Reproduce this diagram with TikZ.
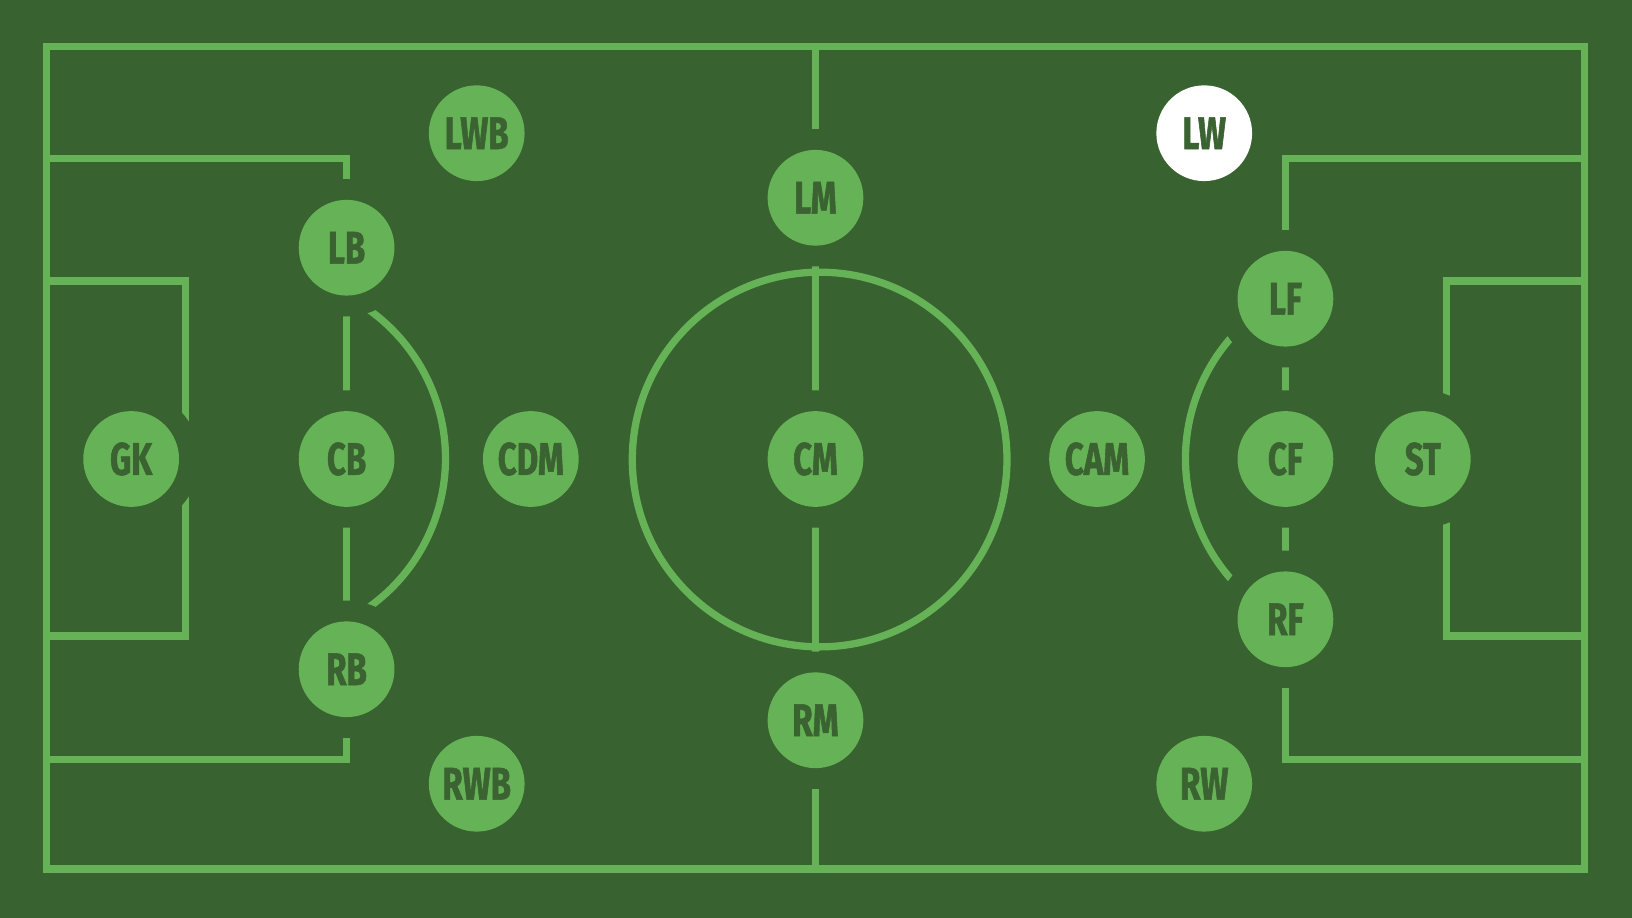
\documentclass[tikz,border=0pt]{standalone}
\usepackage{fontspec}
\newfontfamily\posfont[FakeStretch=0.72, BoldFeatures={FakeBold=1.2}]{Fira Sans}
\definecolor{bg}{HTML}{38622F}
\definecolor{ln}{HTML}{66B256}
\definecolor{txt}{HTML}{3A6331}
\begin{document}
\begin{tikzpicture}[x=0.5pt,y=-0.5pt,
  pitch/.style={draw=ln, line width=3.5pt},
  player/.style={circle, fill=ln, minimum size=46pt, inner sep=0pt, text=txt,
    font=\posfont\bfseries\fontsize{22}{22}\selectfont,
    preaction={draw=bg, line width=20pt}},
  hlplayer/.style={player, fill=white}]
\fill[bg] (0,0) rectangle (1568,882);
\useasboundingbox (0,0) rectangle (1568,882);
% outline and halfway line
\draw[pitch] (45,45) rectangle (1522,835);
\draw[pitch] (783.5,45) -- (783.5,835);
\draw[pitch] (787.5,441.5) circle[radius=90pt];
% left boxes
\draw[pitch] (45,152) -- (333,152) -- (333,730) -- (45,730);
\draw[pitch] (45,270) -- (178,270) -- (178,611) -- (45,611);
\coordinate (lc) at (252.5,440.5);
\draw[pitch] ([shift={(-62.7:87.75pt)}]lc) arc[start angle=-62.7, end angle=62.7, radius=87.75pt];
% right boxes
\draw[pitch] (1522,152) -- (1235,152) -- (1235,730) -- (1522,730);
\draw[pitch] (1522,270) -- (1390,270) -- (1390,611) -- (1522,611);
\coordinate (rc) at (1314.5,440.5);
\draw[pitch] ([shift={(117.3:87.75pt)}]rc) arc[start angle=117.3, end angle=242.7, radius=87.75pt];
% positions
\node[player] (gk)  at (126,441) {GK};
\node[player] (lb)  at (333,238) {LB};
\node[player] (cb)  at (333,441) {CB};
\node[player] (rb)  at (333,643) {RB};
\node[player] (lwb) at (458,128) {LWB};
\node[player] (rwb) at (458,753) {RWB};
\node[player] (cdm) at (510,441) {CDM};
\node[player] (lm)  at (783.5,190) {LM};
\node[player] (cm)  at (783.5,441) {CM};
\node[player] (rm)  at (783.5,692) {RM};
\node[player] (cam) at (1054,441) {CAM};
\node[hlplayer] (lw)  at (1157,128) {LW};
\node[player] (rw)  at (1157,753) {RW};
\node[player] (lf)  at (1235,287) {LF};
\node[player] (cf)  at (1235,441) {CF};
\node[player] (rf)  at (1235,595) {RF};
\node[player] (st)  at (1367,441) {ST};
\end{tikzpicture}
\end{document}
